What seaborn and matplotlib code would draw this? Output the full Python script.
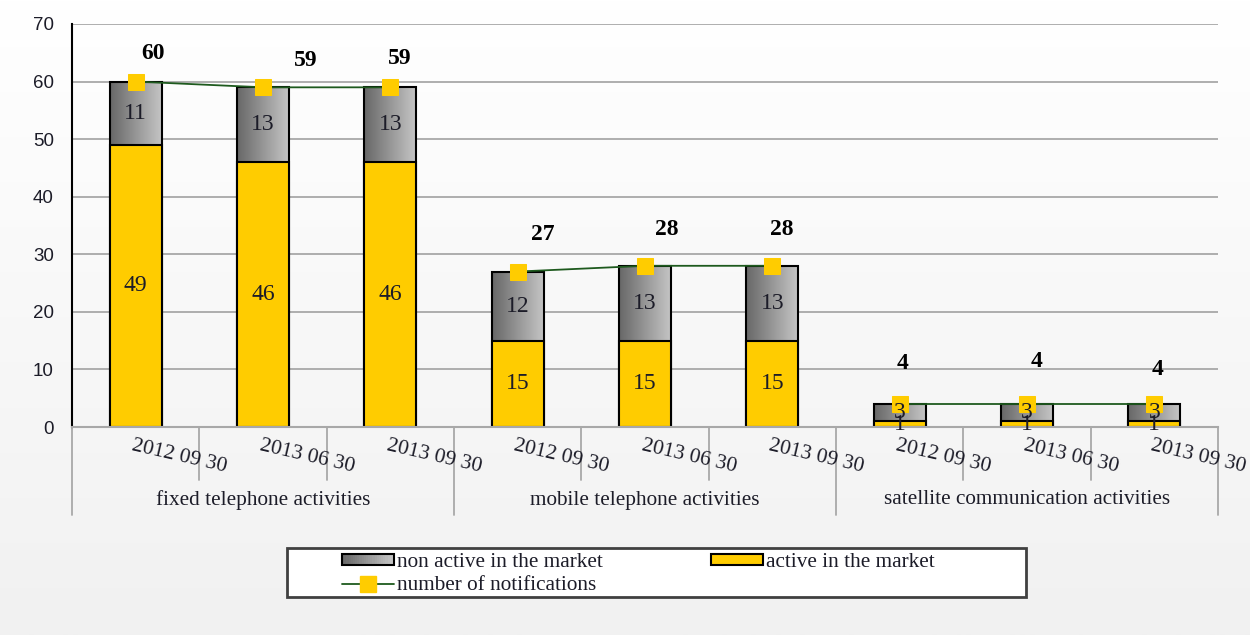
import numpy as np
import pandas as pd
import matplotlib
matplotlib.use("Agg")
import matplotlib.pyplot as plt
import matplotlib.transforms as mtransforms
from matplotlib.colors import LinearSegmentedColormap
from matplotlib.patches import Rectangle
from matplotlib.lines import Line2D
from matplotlib.legend_handler import HandlerBase
import seaborn as sns

# ---- data -------------------------------------------------------------
groups = ["fixed telephone activities",
          "mobile telephone activities",
          "satellite communication activities"]
dates = ["2012 09 30", "2013 06 30", "2013 09 30"]
active = [49, 46, 46, 15, 15, 15, 1, 1, 1]
non_active = [11, 13, 13, 12, 13, 13, 3, 3, 3]
notifications = [60, 59, 59, 27, 28, 28, 4, 4, 4]
y_ticks = [0, 10, 20, 30, 40, 50, 60, 70]

# label nudges (pixels) for the notification totals
label_dx = [17, 43, 9, 25, 22, 9, 3, 10, 3]
label_dy = [28, 27, 29, 37, 36, 36, 40, 42, 34]

# ---- styling -----------------------------------------------------------
sns.set_theme(style="white")
plt.rcParams["font.family"] = ["Liberation Serif", "DejaVu Serif"]

YELLOW = "#FFCC00"
GREEN = "#1e5a1e"
TEXT = "#1c1c28"
GRID = "#a8a8a8"
grey_cmap = LinearSegmentedColormap.from_list("greybar", ["#686868", "#c6c6c6"])


class GradientHandler(HandlerBase):
    """Legend key drawn as a left-to-right grey gradient with a black outline."""

    def create_artists(self, legend, orig_handle, xdescent, ydescent,
                       width, height, fontsize, trans):
        n = 24
        arts = []
        for k in range(n):
            r = Rectangle((-xdescent + width * k / n, -ydescent), width / n + 0.3,
                          height, facecolor=grey_cmap(k / (n - 1)),
                          edgecolor="none", transform=trans)
            arts.append(r)
        arts.append(Rectangle((-xdescent, -ydescent), width, height,
                              facecolor="none", edgecolor="black", linewidth=1.5,
                              transform=trans))
        return arts


slots = [f"{g}|{d}" for g in groups for d in dates]
df = pd.DataFrame({
    "slot": slots,
    "active": active,
    "non_active": non_active,
    "total": [a + n for a, n in zip(active, non_active)],
})

W, H = 1250, 635
fig = plt.figure(figsize=(W / 100, H / 100), dpi=100)

# soft vertical background wash
bg = fig.add_axes([0, 0, 1, 1], zorder=-10)
bg.imshow(np.linspace(0, 1, 256)[:, None], aspect="auto", extent=[0, 1, 0, 1],
          cmap=LinearSegmentedColormap.from_list("bg", ["#ffffff", "#f1f1f1"]))
bg.axis("off")

ax = fig.add_axes([72 / W, 1 - 427 / H, (1218 - 72) / W, (427 - 24) / H])
ax.patch.set_visible(False)

# stacked bars: full height (grey part) then the active part on top
sns.barplot(data=df, x="slot", y="total", order=slots, color="#999999",
            saturation=1, width=0.41, edgecolor="black", linewidth=1.5,
            errorbar=None, ax=ax)
grey_bars = list(ax.patches)
sns.barplot(data=df, x="slot", y="active", order=slots, color=YELLOW,
            saturation=1, width=0.41, edgecolor="black", linewidth=1.5,
            errorbar=None, ax=ax)

# horizontal grey gradient inside the "non active" bars
for p in grey_bars:
    x0, w, h = p.get_x(), p.get_width(), p.get_height()
    img = ax.imshow(np.linspace(0, 1, 64)[None, :], cmap=grey_cmap, aspect="auto",
                    extent=[x0, x0 + w, 0, h], zorder=p.get_zorder() - 0.05)
    img.set_clip_path(p)
    p.set_facecolor("none")

# notifications line, one segment per activity group
xs = np.arange(len(slots))
nd = len(dates)
for g in range(len(groups)):
    sl = slice(g * nd, (g + 1) * nd)
    sns.lineplot(x=xs[sl], y=notifications[sl], color=GREEN, linewidth=1.3,
                 marker="s", markersize=11.5, markerfacecolor=YELLOW,
                 markeredgecolor=YELLOW, ax=ax, zorder=5)

ax.set_xlim(-0.5, len(slots) - 0.5)
ax.set_ylim(0, 70)
ax.set_yticks(y_ticks)
ax.yaxis.grid(True, color=GRID, linewidth=1.3)
ax.set_axisbelow(True)
ax.set_xlabel("")
ax.set_ylabel("")
ax.set_xticks(xs)
ax.set_xticklabels([])
ax.tick_params(axis="x", length=0)
ax.tick_params(axis="y", direction="out", length=6, width=1.3, color="black",
               labelsize=13.5, labelcolor=TEXT, pad=7)
for lab in ax.get_yticklabels():
    lab.set_fontfamily("Liberation Sans")
for s in ("top", "right"):
    ax.spines[s].set_visible(False)
ax.spines["left"].set_color("black")
ax.spines["left"].set_linewidth(1.5)
ax.spines["bottom"].set_color(GRID)
ax.spines["bottom"].set_linewidth(1.5)

# segment value labels
for i in xs:
    ax.text(i, active[i] / 2, str(active[i]), ha="center", va="center",
            fontsize=17, color=TEXT, zorder=6)
    ax.text(i, active[i] + non_active[i] / 2, str(non_active[i]), ha="center",
            va="center", fontsize=17, color=TEXT, zorder=6)

# notification totals
for i in xs:
    ax.annotate(str(notifications[i]), (i, notifications[i]),
                xytext=(label_dx[i], label_dy[i]), textcoords="offset pixels",
                ha="center", va="center", fontsize=17, fontweight="bold",
                color="black", zorder=7)

# two-level category axis
trans = mtransforms.blended_transform_factory(ax.transData, ax.transAxes)
ax_h = 427 - 24
for k in range(len(slots) + 1):
    edge = k - 0.5
    depth = 88 if k % nd == 0 else 53
    ax.add_line(Line2D([edge, edge], [0, -depth / ax_h], transform=trans,
                       color=GRID, linewidth=1.3, clip_on=False))
for i, s in enumerate(slots):
    ax.text(i - 0.01, -9 / ax_h, dates[i % nd], transform=trans,
            ha="left", va="top", rotation=-13, rotation_mode="anchor",
            fontsize=15.5, color=TEXT)
for g, name in enumerate(groups):
    mid = g * nd + (nd - 1) / 2
    ax.text(mid, -73 / ax_h, name, transform=trans, ha="center", va="center",
            fontsize=15.3, color=TEXT)

# legend frame and entries
fig.add_artist(Rectangle((287 / W, 1 - 597 / H), (1026 - 287) / W, (597 - 548) / H,
                         transform=fig.transFigure, facecolor="white",
                         edgecolor="#404040", linewidth=2, zorder=1))
h_non = Rectangle((0, 0), 1, 1, facecolor="#9a9a9a", edgecolor="black", linewidth=1.5)
h_act = Rectangle((0, 0), 1, 1, facecolor=YELLOW, edgecolor="black", linewidth=1.5)
h_line = Line2D([], [], color=GREEN, linewidth=1.3, marker="s", markersize=11.5,
                markerfacecolor=YELLOW, markeredgecolor=YELLOW)
leg_kw = dict(frameon=False, fontsize=15.3, handlelength=2.45, handleheight=0.45,
              handletextpad=0.12, labelspacing=0.2, borderpad=0, borderaxespad=0,
              numpoints=1, loc="upper left", labelcolor=TEXT,
              handler_map={h_non: GradientHandler()})
leg1 = fig.legend([h_non, h_line], ["non active in the market", "number of notifications"],
                  bbox_to_anchor=(342 / W, 1 - 553 / H), **leg_kw)
leg2 = fig.legend([h_act], ["active in the market"],
                  bbox_to_anchor=(711 / W, 1 - 553 / H), **leg_kw)
leg1.set_zorder(2)
leg2.set_zorder(2)

fig.savefig("out.png", dpi=100)
